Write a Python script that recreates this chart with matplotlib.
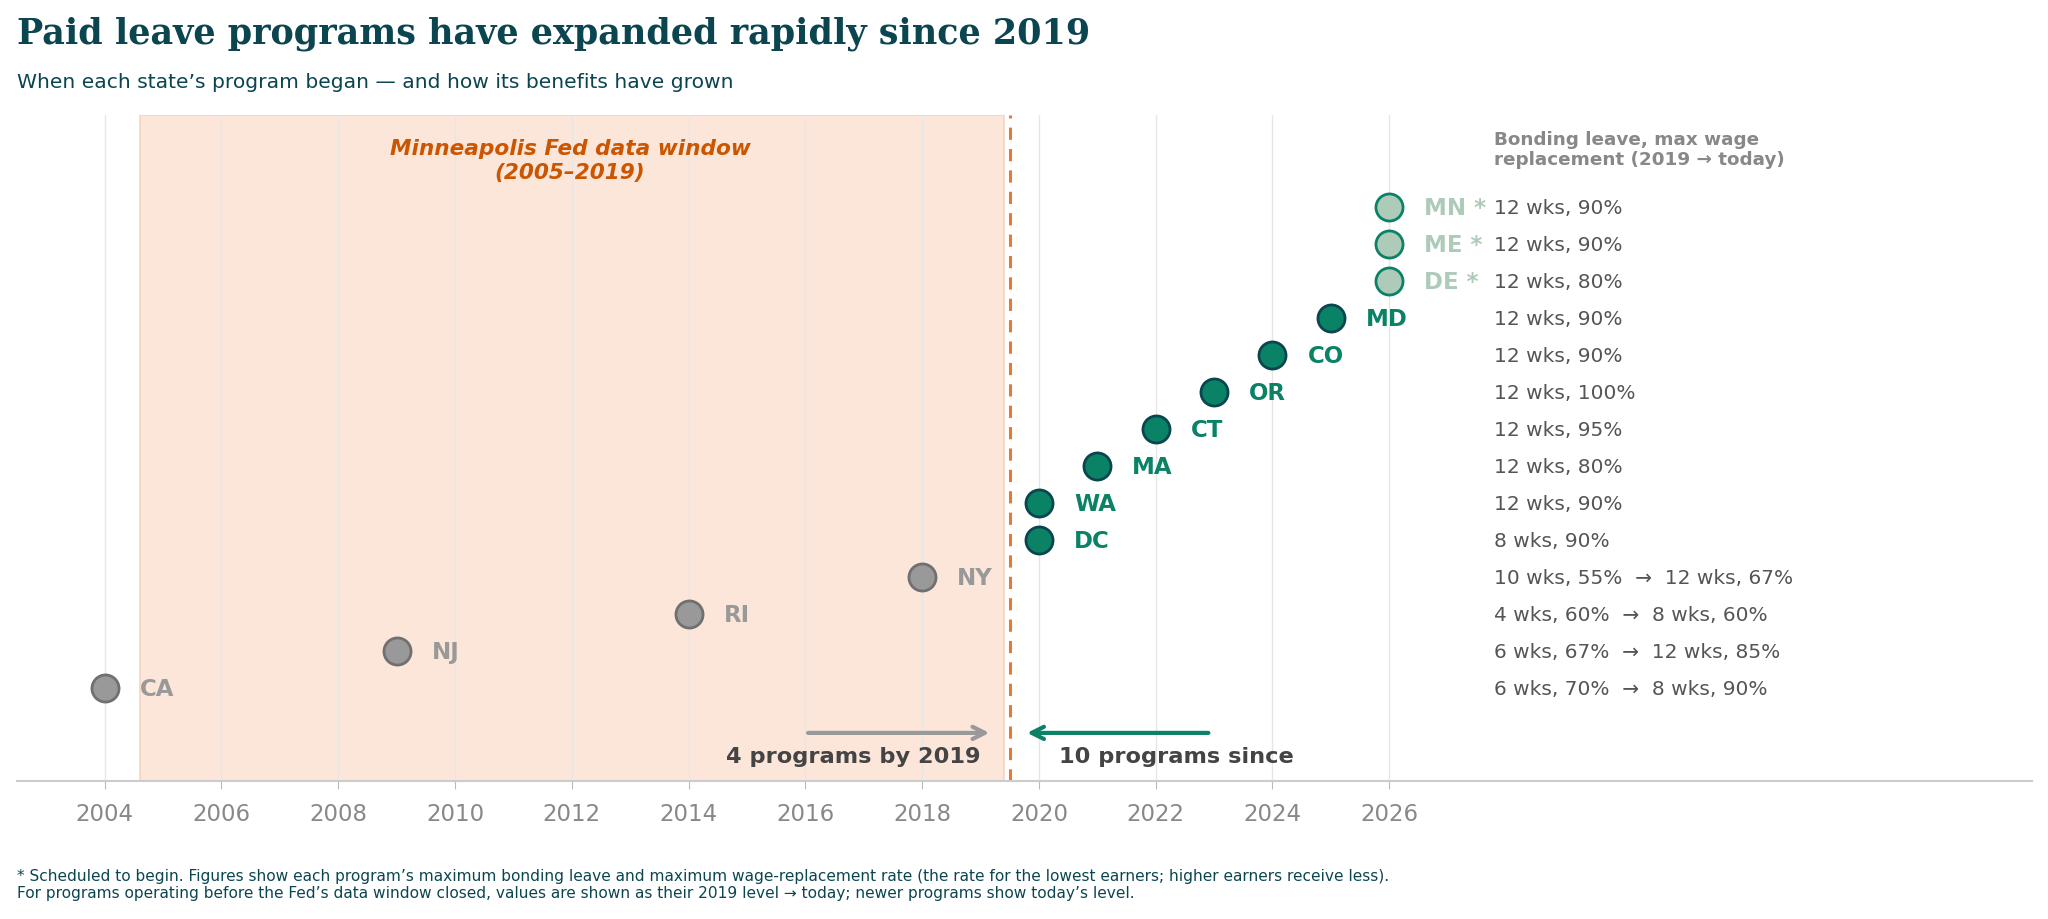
import matplotlib
matplotlib.use("Agg")
import matplotlib.pyplot as plt
import numpy as np

# data, bottom row first
states = ['CA', 'NJ', 'RI', 'NY', 'DC', 'WA', 'MA', 'CT', 'OR', 'CO', 'MD', 'DE', 'ME', 'MN']
start_year = [2004, 2009, 2014, 2018, 2020, 2020, 2021, 2022, 2023, 2024, 2025, 2026, 2026, 2026]
status = ['pre', 'pre', 'pre', 'pre', 'new', 'new', 'new', 'new', 'new', 'new', 'new',
          'sched', 'sched', 'sched']
benefits = ['6 wks, 70%  \u2192  8 wks, 90%', '6 wks, 67%  \u2192  12 wks, 85%',
            '4 wks, 60%  \u2192  8 wks, 60%', '10 wks, 55%  \u2192  12 wks, 67%',
            '8 wks, 90%', '12 wks, 90%', '12 wks, 80%', '12 wks, 95%', '12 wks, 100%',
            '12 wks, 90%', '12 wks, 90%', '12 wks, 80%', '12 wks, 90%', '12 wks, 90%']
window_start, window_end = 2005, 2019
year_ticks = list(range(2004, 2027, 2))

DARK = '#0b4650'
GREEN = '#0a8266'
GREY = '#999999'
LIGHT = '#aecbb9'
ORANGE = '#e07b39'

styles = {
    'pre': dict(fc=GREY, ec='#707070', tc=GREY),
    'new': dict(fc=GREEN, ec=DARK, tc=GREEN),
    'sched': dict(fc=LIGHT, ec=GREEN, tc=LIGHT),
}

plt.rcParams['font.family'] = ['DejaVu Sans']
fig = plt.figure(figsize=(20.48, 9.2), dpi=100)
ax = fig.add_axes([0.0083, 0.15, 0.9837, 0.724])

ax.set_xlim(2002.5, 2037)
ax.set_ylim(-2.5, 15.5)

# data window
ax.axvspan(window_start - 0.4, window_end + 0.4, facecolor='#fce6d9', edgecolor='#f9d3bd',
           lw=1.2, zorder=0)
ax.axvline(window_end + 0.5, color=ORANGE, ls='--', lw=2.2, dashes=(4, 3), zorder=2)
ax.text((window_start + window_end) / 2 - 0.03, 14.28,
        'Minneapolis Fed data window\n(%d\u2013%d)' % (window_start, window_end),
        ha='center', va='center', color='#cc5500', fontsize=15.6,
        fontweight='bold', fontstyle='italic', linespacing=1.2)

for i, (st, yr, s, txt) in enumerate(zip(states, start_year, status, benefits)):
    sty = styles[s]
    ax.plot(yr, i, 'o', ms=19.5, mfc=sty['fc'], mec=sty['ec'], mew=2, zorder=4)
    label = st + ' *' if s == 'sched' else st
    ax.text(yr + 0.6, i, label, ha='left', va='center', color=sty['tc'],
            fontsize=16.5, fontweight='bold', zorder=5)
    ax.text(2027.8, i, txt, ha='left', va='center', color='#555555', fontsize=14.5)

ax.text(2027.8, 14.58, 'Bonding leave, max wage\nreplacement (2019 \u2192 today)',
        ha='left', va='center', color='#888888', fontsize=13.2, fontweight='bold',
        linespacing=1.1)

# arrows and counts
n_before = sum(1 for s in status if s == 'pre')
n_after = len(status) - n_before
ax.annotate('', xy=(2019.2, -1.2), xytext=(2016.0, -1.2),
            arrowprops=dict(arrowstyle='->', color=GREY, lw=3, mutation_scale=22))
ax.annotate('', xy=(2019.75, -1.2), xytext=(2022.95, -1.2),
            arrowprops=dict(arrowstyle='->', color=GREEN, lw=3, mutation_scale=22))
ax.text(2019.0, -1.82, '%d programs by 2019' % n_before, ha='right', va='center',
        color='#444444', fontsize=16.2, fontweight='bold')
ax.text(2020.35, -1.82, '%d programs since' % n_after, ha='left', va='center',
        color='#444444', fontsize=16.2, fontweight='bold')

ax.set_xticks(year_ticks)
ax.set_yticks([])
ax.grid(axis='x', color='#e6e6e6', lw=1)
ax.set_axisbelow(True)
for side in ['left', 'top', 'right']:
    ax.spines[side].set_visible(False)
ax.spines['bottom'].set_color('#cccccc')
ax.spines['bottom'].set_linewidth(1.5)
ax.tick_params(axis='x', colors='#bbbbbb', labelcolor='#888888', labelsize=16.5,
               length=6, pad=9)

fig.text(0.0083, 0.963, 'Paid leave programs have expanded rapidly since 2019',
         fontfamily='DejaVu Serif', fontweight='bold', fontsize=25.2, color=DARK,
         ha='left', va='center')
fig.text(0.0083, 0.91, 'When each state\u2019s program began \u2014 and how its benefits have grown',
         fontsize=14.6, color=DARK, ha='left', va='center')
fig.text(0.0083, 0.038,
         '* Scheduled to begin. Figures show each program\u2019s maximum bonding leave and maximum '
         'wage-replacement rate (the rate for the lowest earners; higher earners receive less).\n'
         'For programs operating before the Fed\u2019s data window closed, values are shown as their '
         '2019 level \u2192 today; newer programs show today\u2019s level.',
         fontsize=11.1, color=DARK, ha='left', va='center', linespacing=1.2)

fig.savefig('out.png', dpi=100, facecolor='white')
